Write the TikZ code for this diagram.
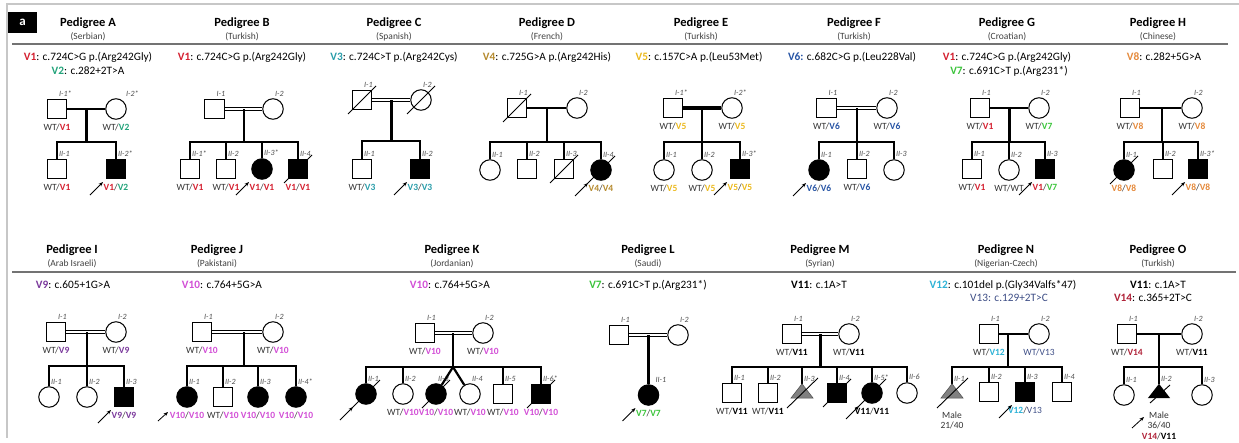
\documentclass[tikz,border=0pt]{standalone}
\usepackage{fontspec}
\setmainfont{Carlito}
\usetikzlibrary{arrows.meta,calc}
\definecolor{c1}{HTML}{D42030}
\definecolor{c2}{HTML}{22A37A}
\definecolor{c3}{HTML}{2A9DAA}
\definecolor{c4}{HTML}{B58A2E}
\definecolor{c5}{HTML}{EBB91E}
\definecolor{c6}{HTML}{2855A5}
\definecolor{c7}{HTML}{3CC43C}
\definecolor{c8}{HTML}{E58A3C}
\definecolor{c9}{HTML}{7B3A9C}
\definecolor{c10}{HTML}{D24FD6}
\definecolor{c11}{HTML}{000000}
\definecolor{c12}{HTML}{2EB2D6}
\definecolor{c13}{HTML}{3E4E86}
\definecolor{c14}{HTML}{B0243A}
\newcommand{\vv}[2]{\textbf{\textcolor{#1}{#2}}}
\newcommand{\decd}[1]{\draw[decl] (#1.center) ++(-14,14) -- ++(28,-28);}
\newcommand{\probd}[1]{\draw[probl] (#1.center) ++(-26,26) -- ++(13,-13);}
\newcommand{\ptitle}[4]{\node[ttl] (t#1) at (#2,#3) {Pedigree #1}; \node[sub] (s#1) at (#2,#3+14) {(#4)};}
\begin{document}
\begin{tikzpicture}[x=1pt,y=-1pt,
 sq/.style={draw,line width=1pt,minimum size=19.5pt,inner sep=0pt,fill=white},
 ci/.style={draw,circle,line width=1pt,minimum size=20.5pt,inner sep=0pt,fill=white},
 aff/.style={fill=black},
 tri/.style={rectangle,minimum width=22pt,minimum height=14pt,inner sep=0pt},
 lab/.style={font=\fontsize{8}{8.5}\selectfont\itshape,text=black!70,inner sep=0.5pt,anchor=south west,xshift=1.5pt,yshift=1.5pt},
 gtx/.style={font=\fontsize{9.5}{10.5}\selectfont,text=black!80,inner sep=0.5pt,yshift=-3.5pt},
 lb/.style={label={[lab]90:#1}},
 gt/.style={label={[gtx]-90:#1}},
 gm/.style={label={[gtx,align=center,yshift=-9pt]-90:#1}},
 rel/.style={line width=2.2pt},
 cons/.style={line width=1.2pt,double=white,double distance=2.2pt},
 decl/.style={line width=0.9pt},
 probl/.style={line width=0.8pt,-{Stealth[length=4.5pt,width=3.5pt]}},
 ttl/.style={font=\fontsize{12.5}{14}\selectfont\bfseries,inner sep=0pt},
 sub/.style={font=\fontsize{9.5}{11}\selectfont,text=black!75,inner sep=0pt},
 vt/.style={font=\fontsize{11.3}{13}\selectfont,inner sep=0pt},
 frame/.style={draw=black!22,line width=2pt},
 sepl/.style={draw=black!55,line width=1.1pt},
]
\useasboundingbox (0,0) rectangle (1239,442);
\draw[frame] (1239,4) -- (7,4) -- (7,438);
\node[fill=black,minimum width=29pt,minimum height=21pt,inner sep=0pt,text=white,font=\bfseries\fontsize{13}{14}\selectfont] (pa) at (22.5,22.5) {a};
\draw[sepl] (12,44) -- (1228,44);
\draw[sepl] (12,272) -- (1236,272);

% titles
\ptitle{A}{88}{23}{Serbian}
\ptitle{B}{242}{23}{Turkish}
\ptitle{C}{394}{23}{Spanish}
\ptitle{D}{547}{23}{French}
\ptitle{E}{701}{23}{Turkish}
\ptitle{F}{854}{23}{Turkish}
\ptitle{G}{1007}{23}{Croatian}
\ptitle{H}{1158}{23}{Chinese}
\ptitle{I}{72}{250}{Arab Israeli}
\ptitle{J}{217}{250}{Pakistani}
\ptitle{K}{452}{250}{Jordanian}
\ptitle{L}{648}{250}{Saudi}
\ptitle{M}{820}{250}{Syrian}
\ptitle{N}{1006}{250}{Nigerian-Czech}
\ptitle{O}{1158}{250}{Turkish}

% variants
\node[vt] (vA1) at (88,57) {\vv{c1}{V1}: c.724C>G p.(Arg242Gly)};
\node[vt] (vA2) at (88,71) {\vv{c2}{V2}: c.282+2T>A};
\node[vt] (vB) at (242,57) {\vv{c1}{V1}: c.724C>G p.(Arg242Gly)};
\node[vt] (vC) at (394,57) {\vv{c3}{V3}: c.724C>T p.(Arg242Cys)};
\node[vt] (vD) at (547,57) {\vv{c4}{V4}: c.725G>A p.(Arg242His)};
\node[vt] (vE) at (699,57) {\vv{c5}{V5}: c.157C>A p.(Leu53Met)};
\node[vt] (vF) at (852,57) {\vv{c6}{V6:} c.682C>G p.(Leu228Val)};
\node[vt] (vG1) at (1007,57) {\vv{c1}{V1}: c.724C>G p.(Arg242Gly)};
\node[vt] (vG2) at (1009,71) {\vv{c7}{V7}: c.691C>T p.(Arg231*)};
\node[vt] (vH) at (1164,57) {\vv{c8}{V8}: c.282+5G>A};
\node[vt] (vI) at (73,285) {\vv{c9}{V9}: c.605+1G>A};
\node[vt] (vJ) at (222,285) {\vv{c10}{V10}: c.764+5G>A};
\node[vt] (vK) at (450,285) {\vv{c10}{V10}: c.764+5G>A};
\node[vt] (vL) at (648,285) {\vv{c7}{V7}: c.691C>T p.(Arg231*)};
\node[vt] (vM) at (819,285) {\vv{c11}{V11}: c.1A>T};
\node[vt] (vN1) at (1003,285) {\vv{c12}{V12}: c.101del p.(Gly34Valfs*47)};
\node[vt] (vN2) at (1009,298) {\textcolor{c13}{V13: c.129+2T>C}};
\node[vt] (vO1) at (1158,285) {\vv{c11}{V11}: c.1A>T};
\node[vt] (vO2) at (1153,298) {\vv{c14}{V14}: c.365+2T>C};

% ---------- Pedigree A
\node[sq,lb={I-1*},gt={WT/\vv{c1}{V1}}] (A1) at (57,109) {};
\node[ci,label={[lab,xshift=8pt]90:I-2*},gt={WT/\vv{c2}{V2}}] (A2) at (116,109) {};
\node[sq,lb={II-1},gt={WT/\vv{c1}{V1}}] (Ac1) at (57,169) {};
\node[sq,aff,lb={II-2*},gt={\vv{c1}{V1}/\vv{c2}{V2}}] (Ac2) at (116,169) {};
\coordinate (Am) at (86.5,109); \coordinate (As) at (86.5,142);
\draw[rel] (A1) -- (A2);
\draw[rel] (Am) -- (As);
\draw[rel] (Ac1) |- (As) -| (Ac2);
\probd{Ac2}

% ---------- Pedigree B
\node[sq,lb={I-1}] (B1) at (214.5,109) {};
\node[ci,lb={I-2}] (B2) at (273,109) {};
\node[sq,lb={II-1*},gt={WT/\vv{c1}{V1}}] (Bc1) at (190,169) {};
\node[sq,lb={II-2},gt={WT/\vv{c1}{V1}}] (Bc2) at (226,169) {};
\node[ci,aff,lb={II-3*},gt={\vv{c1}{V1}/\vv{c1}{V1}}] (Bc3) at (262,169) {};
\node[sq,aff,lb={II-4},gt={\vv{c1}{V1}/\vv{c1}{V1}}] (Bc4) at (298,169) {};
\coordinate (Bm) at (244,109); \coordinate (Bs) at (244,142);
\draw[cons] (B1) -- (B2);
\draw[rel] (Bm) -- (Bs);
\draw[rel] (Bc1) |- (Bs) -| (Bc4);
\draw[rel] (Bc2) -- (Bc2|-Bs);
\draw[rel] (Bc3) -- (Bc3|-Bs);
\decd{Bc4}
\probd{Bc3}

% ---------- Pedigree C
\node[sq,lb={I-1}] (C1) at (362,100) {};
\node[ci,lb={I-2}] (C2) at (421,100) {};
\node[sq,lb={II-1},gt={WT/\vv{c3}{V3}}] (Cc1) at (362,169) {};
\node[sq,aff,lb={II-2},gt={\vv{c3}{V3}/\vv{c3}{V3}}] (Cc2) at (420,169) {};
\coordinate (Cm) at (391.5,100); \coordinate (Cs) at (391.5,141);
\draw[cons] (C1) -- (C2);
\draw[rel] (Cm) -- (Cs);
\draw[rel] (Cc1) |- (Cs) -| (Cc2);
\decd{C1} \decd{C2}
\probd{Cc2}

% ---------- Pedigree D
\node[sq,lb={I-1}] (D1) at (517,108) {};
\node[ci,lb={I-2}] (D2) at (577,108) {};
\node[ci,lb={II-1}] (Dc1) at (490,170) {};
\node[sq,lb={II-2}] (Dc2) at (527,169) {};
\node[sq,lb={II-3}] (Dc3) at (564,169) {};
\node[ci,aff,lb={II-4},gt={\vv{c4}{V4}/\vv{c4}{V4}}] (Dc4) at (601,170) {};
\coordinate (Dm) at (547,108); \coordinate (Ds) at (547,142);
\draw[rel] (D1) -- (D2);
\draw[rel] (Dm) -- (Ds);
\draw[rel] (Dc1) |- (Ds) -| (Dc4);
\draw[rel] (Dc2) -- (Dc2|-Ds);
\draw[rel] (Dc3) -- (Dc3|-Ds);
\decd{D1} \decd{Dc3} \decd{Dc4}
\probd{Dc4}

% ---------- Pedigree E
\node[sq,lb={I-1*},gt={WT/\vv{c5}{V5}}] (E1) at (673,108) {};
\node[ci,lb={I-2*},gt={WT/\vv{c5}{V5}}] (E2) at (732,108) {};
\node[ci,lb={II-1},gt={WT/\vv{c5}{V5}}] (Ec1) at (664,170) {};
\node[ci,lb={II-2},gt={WT/\vv{c5}{V5}}] (Ec2) at (702,170) {};
\node[sq,aff,lb={II-3*},gt={\vv{c5}{V5}/\vv{c5}{V5}}] (Ec3) at (740,169) {};
\coordinate (Em) at (702,108); \coordinate (Es) at (702,142);
\draw[line width=3.8pt] (E1) -- (E2);
\draw[rel] (Em) -- (Es);
\draw[rel] (Ec1) |- (Es) -| (Ec3);
\draw[rel] (Ec2) -- (Es);
\probd{Ec3}

% ---------- Pedigree F
\node[sq,lb={I-1},gt={WT/\vv{c6}{V6}}] (F1) at (826.5,108) {};
\node[ci,lb={I-2},gt={WT/\vv{c6}{V6}}] (F2) at (887,108) {};
\node[ci,aff,lb={II-1},gt={\vv{c6}{V6}/\vv{c6}{V6}}] (Fc1) at (819,170) {};
\node[sq,lb={II-2},gt={WT/\vv{c6}{V6}}] (Fc2) at (857,169) {};
\node[ci,lb={II-3}] (Fc3) at (894,170) {};
\coordinate (Fm) at (857,108); \coordinate (Fs) at (857,142);
\draw[cons] (F1) -- (F2);
\draw[rel] (Fm) -- (Fs);
\draw[rel] (Fc1) |- (Fs) -| (Fc3);
\draw[rel] (Fc2) -- (Fs);
\probd{Fc1}

% ---------- Pedigree G
\node[sq,lb={I-1},gt={WT/\vv{c1}{V1}}] (G1) at (980,108) {};
\node[ci,lb={I-2},gt={WT/\vv{c7}{V7}}] (G2) at (1039,108) {};
\node[sq,lb={II-1},gt={WT/\vv{c1}{V1}}] (Gc1) at (972,169) {};
\node[ci,lb={II-2},gt={WT/WT}] (Gc2) at (1009,170) {};
\node[sq,aff,lb={II-3},gt={\vv{c1}{V1}/\vv{c7}{V7}}] (Gc3) at (1045,169) {};
\coordinate (Gm) at (1009.5,108); \coordinate (Gs) at (1009.5,142);
\draw[rel] (G1) -- (G2);
\draw[rel] (Gm) -- (Gs);
\draw[rel] (Gc1) |- (Gs) -| (Gc3);
\draw[rel] (Gc2) -- (Gc2|-Gs);
\probd{Gc3}

% ---------- Pedigree H
\node[sq,lb={I-1},gt={WT/\vv{c8}{V8}}] (H1) at (1130,108) {};
\node[ci,lb={I-2},gt={WT/\vv{c8}{V8}}] (H2) at (1192,108) {};
\node[ci,aff,lb={II-1},gt={\vv{c8}{V8}/\vv{c8}{V8}}] (Hc1) at (1124,170) {};
\node[sq,lb={II-2}] (Hc2) at (1163,169) {};
\node[sq,aff,lb={II-3*},gt={\vv{c8}{V8}/\vv{c8}{V8}}] (Hc3) at (1198,169) {};
\coordinate (Hm) at (1162,108); \coordinate (Hs) at (1162,142);
\draw[rel] (H1) -- (H2);
\draw[rel] (Hm) -- (Hs);
\draw[rel] (Hc1) |- (Hs) -| (Hc3);
\draw[rel] (Hc2) -- (Hc2|-Hs);
\decd{Hc1}
\probd{Hc3}

% ---------- Pedigree I
\node[sq,lb={I-1},gt={WT/\vv{c9}{V9}}] (I1) at (56,332) {};
\node[ci,lb={I-2},gt={WT/\vv{c9}{V9}}] (I2) at (116,332) {};
\node[ci,lb={II-1}] (Ic1) at (49,397) {};
\node[ci,lb={II-2}] (Ic2) at (87,397) {};
\node[sq,aff,lb={II-3},gt={\vv{c9}{V9}/\vv{c9}{V9}}] (Ic3) at (124,397) {};
\coordinate (Im) at (87,332); \coordinate (Is) at (87,366);
\draw[cons] (I1) -- (I2);
\draw[rel] (Im) -- (Is);
\draw[rel] (Ic1) |- (Is) -| (Ic3);
\draw[rel] (Ic2) -- (Is);
\probd{Ic3}

% ---------- Pedigree J
\node[sq,lb={I-1},gt={WT/\vv{c10}{V10}}] (J1) at (202,332) {};
\node[ci,lb={I-2},gt={WT/\vv{c10}{V10}}] (J2) at (273,332) {};
\node[ci,aff,lb={II-1},gt={\vv{c10}{V10}/\vv{c10}{V10}}] (Jc1) at (187,397) {};
\node[sq,lb={II-2},gt={WT/\vv{c10}{V10}}] (Jc2) at (223,397) {};
\node[ci,aff,lb={II-3},gt={\vv{c10}{V10}/\vv{c10}{V10}}] (Jc3) at (258,397) {};
\node[ci,aff,lb={II-4*},gt={\vv{c10}{V10}/\vv{c10}{V10}}] (Jc4) at (296,397) {};
\coordinate (Jm) at (244,332); \coordinate (Js) at (244,366);
\draw[cons] (J1) -- (J2);
\draw[rel] (Jm) -- (Js);
\draw[rel] (Jc1) |- (Js) -| (Jc4);
\draw[rel] (Jc2) -- (Jc2|-Js);
\draw[rel] (Jc3) -- (Jc3|-Js);
\draw[probl] (Jc1.center) ++(-29,24) -- ++(10,-9);

% ---------- Pedigree K
\node[sq,lb={I-1},gt={WT/\vv{c10}{V10}}] (K1) at (425,333) {};
\node[ci,lb={I-2},gt={WT/\vv{c10}{V10}}] (K2) at (483,333) {};
\node[ci,aff,lb={II-1}] (Kc1) at (366,394) {};
\node[ci,lb={II-2},gt={WT/\vv{c10}{V10}}] (Kc2) at (403,394) {};
\node[ci,aff,lb={II-3},gt={\vv{c10}{V10}/\vv{c10}{V10}}] (Kc3) at (436,394) {};
\node[ci,lb={II-4},gt={WT/\vv{c10}{V10}}] (Kc4) at (470,394) {};
\node[sq,lb={II-5},gt={WT/\vv{c10}{V10}}] (Kc5) at (503,394) {};
\node[sq,aff,lb={II-6*},gt={\vv{c10}{V10}/\vv{c10}{V10}}] (Kc6) at (541,394) {};
\coordinate (Km) at (453,333); \coordinate (Ks) at (453,367);
\draw[cons] (K1) -- (K2);
\draw[rel] (Km) -- (Ks);
\draw[rel] (Kc1) |- (Ks) -| (Kc6);
\draw[rel] (Kc2) -- (Kc2|-Ks);
\draw[rel] (Kc5) -- (Kc5|-Ks);
\draw[rel] (Kc3) -- (Ks) -- (Kc4);
\decd{Kc1} \decd{Kc3} \decd{Kc6}
\probd{Kc1}

% ---------- Pedigree L
\node[sq,lb={I-1}] (L1) at (619,335) {};
\node[ci,lb={I-2}] (L2) at (678,335) {};
\node[ci,aff,label={[lab,xshift=5pt]90:II-1},gt={\vv{c7}{V7}/\vv{c7}{V7}}] (Lc1) at (648.5,395) {};
\coordinate (Lm) at (648.5,335);
\draw[cons] (L1) -- (L2);
\draw[rel] (Lm) -- (Lc1);
\probd{Lc1}

% ---------- Pedigree M
\node[sq,lb={I-1},gt={WT/\vv{c11}{V11}}] (M1) at (792,334) {};
\node[ci,lb={I-2},gt={WT/\vv{c11}{V11}}] (M2) at (849,334) {};
\node[sq,lb={II-1},gt={WT/\vv{c11}{V11}}] (Mc1) at (732,393) {};
\node[sq,lb={II-2},gt={WT/\vv{c11}{V11}}] (Mc2) at (768,393) {};
\node[tri,lb={II-3}] (Mc3) at (802,391) {};
\node[sq,aff,lb={II-4}] (Mc4) at (837,393) {};
\node[ci,aff,lb={II-5*},gt={\vv{c11}{V11}/\vv{c11}{V11}}] (Mc5) at (872,393) {};
\node[ci,lb={II-6}] (Mc6) at (907,393) {};
\coordinate (Mm) at (820.5,334); \coordinate (Ms) at (820.5,367);
\draw[cons] (M1) -- (M2);
\draw[rel] (Mm) -- (Ms);
\draw[rel] (Mc1) |- (Ms) -| (Mc6);
\draw[rel] (Mc2) -- (Mc2|-Ms);
\draw[rel] (Mc3) -- (Mc3|-Ms);
\draw[rel] (Mc4) -- (Mc4|-Ms);
\draw[rel] (Mc5) -- (Mc5|-Ms);
\draw[fill=black!50,draw=black!70,line width=0.5pt] (Mc3.south west) -- (Mc3.south east) -- (Mc3.north) -- cycle;
\draw[decl] (Mc3.center) ++(-15,17) -- ++(31,-30);
\decd{Mc4} \decd{Mc5}
\probd{Mc5}

% ---------- Pedigree N
\node[sq,lb={I-1},gt={WT/\vv{c12}{V12}}] (N1) at (989,334) {};
\node[ci,lb={I-2},gt={\textcolor{c13}{WT/V13}}] (N2) at (1039,334) {};
\node[tri,lb={II-1},gm={Male\\21/40}] (Nc1) at (952,391) {};
\node[sq,lb={II-2}] (Nc2) at (989,392) {};
\node[sq,aff,lb={II-3},gt={\vv{c12}{V12}/\textcolor{c13}{V13}}] (Nc3) at (1025,392) {};
\node[sq,lb={II-4}] (Nc4) at (1062,392) {};
\coordinate (Nm) at (1008,334); \coordinate (Ns) at (1008,367);
\draw[rel] (N1) -- (N2);
\draw[rel] (Nm) -- (Ns);
\draw[rel] (Nc1) |- (Ns) -| (Nc4);
\draw[rel] (Nc2) -- (Nc2|-Ns);
\draw[rel] (Nc3) -- (Nc3|-Ns);
\draw[fill=black!50,draw=black!70,line width=0.5pt] (Nc1.south west) -- (Nc1.south east) -- (Nc1.north) -- cycle;
\draw[decl] (Nc1.center) ++(-15,17) -- ++(31,-30);
\probd{Nc3}

% ---------- Pedigree O
\node[sq,lb={I-1},gt={WT/\vv{c14}{V14}}] (O1) at (1127,334) {};
\node[ci,lb={I-2},gt={WT/\vv{c11}{V11}}] (O2) at (1192,334) {};
\node[ci,lb={II-1}] (Oc1) at (1124,395) {};
\node[tri,lb={II-2},gm={Male\\36/40\\\vv{c14}{V14}/\vv{c11}{V11}}] (Oc2) at (1159,391) {};
\node[ci,lb={II-3}] (Oc3) at (1202,395) {};
\coordinate (Om) at (1159,334); \coordinate (Os) at (1159,367);
\draw[rel] (O1) -- (O2);
\draw[rel] (Om) -- (Os);
\draw[rel] (Oc1) |- (Os) -| (Oc3);
\draw[rel] (Oc2) -- (Os);
\fill (Oc2.south west) -- (Oc2.south east) -- (Oc2.north) -- cycle;
\draw[decl] (Oc2.center) ++(-9,12) -- ++(20,-18);
\draw[probl] (Oc2.center) ++(-27,37) -- ++(12,-11);
\end{tikzpicture}
\end{document}
